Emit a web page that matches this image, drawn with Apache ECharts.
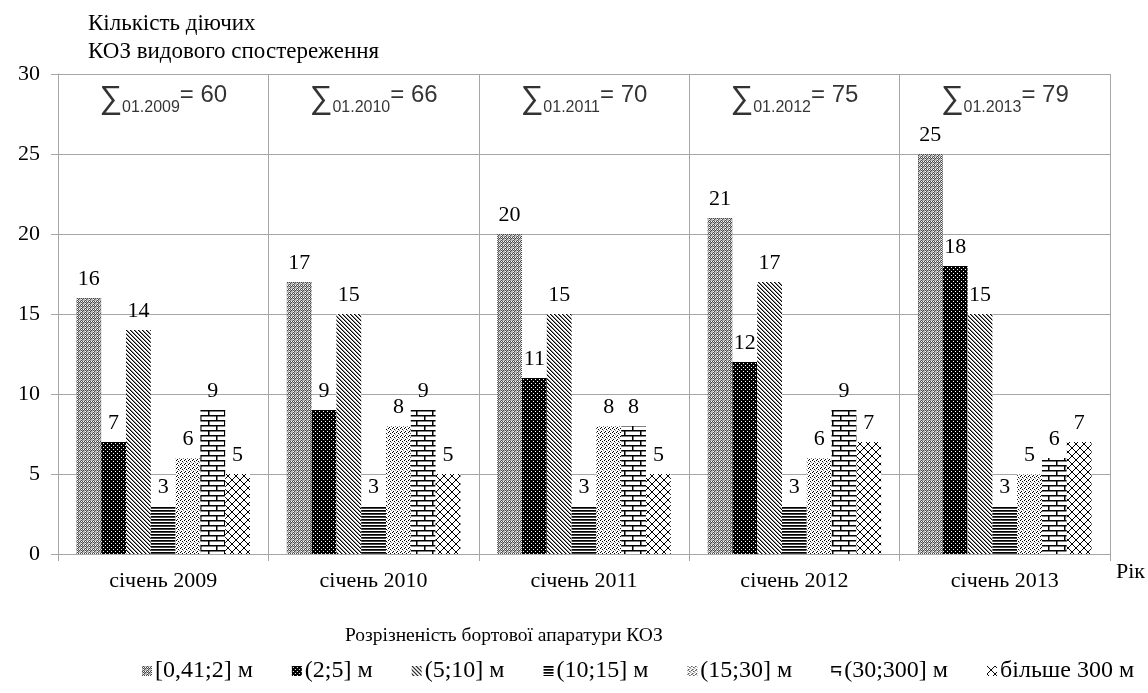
<!DOCTYPE html>
<html>
<head>
<meta charset="utf-8">
<script src="https://cdn.jsdelivr.net/npm/echarts@6/dist/echarts.min.js"></script>
<style>
  html, body { margin: 0; padding: 0; background: #fff; }
  #chart { width: 1148px; height: 693px; }
</style>
</head>
<body>
<div id="chart"></div>
<script>
const categories = ['січень 2009', 'січень 2010', 'січень 2011', 'січень 2012', 'січень 2013']
const sumKeys = ['01.2009', '01.2010', '01.2011', '01.2012', '01.2013']
const seriesNames = ['[0,41;2] м', '(2;5] м', '(5;10] м', '(10;15] м', '(15;30] м', '(30;300] м', 'більше 300 м']
const res0 = [16, 17, 20, 21, 25]
const res1 = [7, 9, 11, 12, 18]
const res2 = [14, 15, 15, 17, 15]
const res3 = [3, 3, 3, 3, 3]
const res4 = [6, 8, 8, 6, 5]
const res5 = [9, 9, 8, 9, 6]
const res6 = [5, 5, 5, 7, 7]
const seriesValues = [res0, res1, res2, res3, res4, res5, res6]
const yMin = 0, yMax = 30, yStep = 5

const serif = '"Liberation Serif", "Times New Roman", serif'
const sans = '"Liberation Sans", Arial, sans-serif'
const gridColor = '#a6a6a6'

// small tiles used as bar fills
function tile(w, h, draw) {
  const c = document.createElement('canvas')
  c.width = w
  c.height = h
  const ctx = c.getContext('2d')
  ctx.fillStyle = '#fff'
  ctx.fillRect(0, 0, w, h)
  draw(ctx)
  return { image: c, repeat: 'repeat' }
}
function px(ctx, pts, col) {
  ctx.fillStyle = col
  pts.forEach(p => ctx.fillRect(p[0], p[1], 1, 1))
}
const fills = [
  // grey "spheres"
  tile(4, 4, ctx => {
    px(ctx, [[1, 0], [0, 1], [2, 1], [1, 2], [3, 2], [2, 3]], '#4a4a4a')
    px(ctx, [[0, 0], [2, 0], [0, 2], [3, 0], [0, 3], [3, 3], [2, 2]], '#b4b4b4')
  }),
  // black with white dots
  tile(4, 4, ctx => {
    ctx.fillStyle = '#000'
    ctx.fillRect(0, 0, 4, 4)
    px(ctx, [[1, 1], [3, 3]], '#fff')
  }),
  // "\" diagonals
  tile(4, 4, ctx => {
    px(ctx, [[0, 0], [1, 1], [2, 2], [3, 3]], '#000')
    px(ctx, [[1, 0], [2, 1], [3, 2], [0, 3]], '#8a8a8a')
  }),
  // horizontal stripes
  tile(1, 3, ctx => {
    px(ctx, [[0, 0]], '#000')
    px(ctx, [[0, 1]], '#444')
  }),
  // sparse dots
  tile(4, 4, ctx => {
    px(ctx, [[0, 0], [2, 1], [1, 3]], '#000')
    px(ctx, [[3, 2]], '#888')
  }),
  // bricks
  tile(16, 10, ctx => {
    ctx.fillStyle = '#000'
    ctx.fillRect(0, 0, 16, 1.5)
    ctx.fillRect(0, 5, 16, 1.5)
    ctx.fillRect(0, 0, 1.5, 5)
    ctx.fillRect(8, 5, 1.5, 5)
  }),
  // crosshatch
  tile(8, 8, ctx => {
    ctx.strokeStyle = '#000'
    ctx.lineWidth = 1
    ctx.beginPath()
    ctx.moveTo(0, 0); ctx.lineTo(8, 8)
    ctx.moveTo(8, 0); ctx.lineTo(0, 8)
    ctx.stroke()
  })
]

const sums = categories.map((c, i) => seriesValues.reduce((a, s) => a + s[i], 0))

const barSeries = seriesNames.map((name, k) => ({
  name: name,
  type: 'bar',
  barWidth: 24.8,
  barGap: '0%',
  itemStyle: { color: fills[k] },
  label: {
    show: true,
    position: 'top',
    distance: 8,
    fontFamily: serif,
    fontSize: 22,
    color: '#000'
  },
  data: seriesValues[k]
}))

const sumSeries = {
  name: 'sum',
  type: 'scatter',
  symbolSize: 0,
  silent: true,
  label: {
    show: true,
    position: 'inside',
    formatter: p => '{s|∑}{sub|' + sumKeys[p.dataIndex] + '}{eq|= ' + sums[p.dataIndex] + '}',
    rich: {
      s: { fontFamily: sans, fontSize: 32, color: '#000', verticalAlign: 'bottom' },
      sub: { fontFamily: sans, fontSize: 16, color: '#000', verticalAlign: 'bottom' },
      eq: { fontFamily: sans, fontSize: 24, color: '#000', verticalAlign: 'bottom', padding: [0, 0, 8, 0] }
    }
  },
  data: categories.map(() => 28.4)
}

const chart = echarts.init(document.getElementById('chart'))
chart.setOption({
  animation: false,
  backgroundColor: '#fff',
  title: [
    {
      text: 'Кількість діючих\nКОЗ видового спостереження',
      left: 83,
      top: 5,
      textStyle: { fontFamily: serif, fontSize: 23, fontWeight: 'normal', color: '#000', lineHeight: 28 }
    },
    {
      text: 'Розрізненість бортової апаратури КОЗ',
      left: 340,
      top: 621,
      textStyle: { fontFamily: serif, fontSize: 19.5, fontWeight: 'normal', color: '#000' }
    }
  ],
  legend: {
    data: seriesNames,
    left: 142,
    right: 0,
    top: 659,
    padding: 0,
    icon: 'rect',
    itemWidth: 10,
    itemHeight: 10,
    itemGap: 39,
    textStyle: { fontFamily: serif, fontSize: 24, color: '#000', padding: [0, 0, 0, -2] }
  },
  grid: { left: 58, right: 36, top: 74, bottom: 139 },
  xAxis: {
    type: 'category',
    data: categories,
    name: 'Рік',
    nameLocation: 'end',
    nameGap: 6,
    nameTextStyle: { fontFamily: serif, fontSize: 22, color: '#000', verticalAlign: 'top', padding: [7, 0, 0, 0] },
    axisLine: { lineStyle: { color: gridColor } },
    axisTick: { show: true, length: 7, lineStyle: { color: gridColor } },
    axisLabel: { fontFamily: serif, fontSize: 22, color: '#000', margin: 16 },
    splitLine: { show: true, lineStyle: { color: gridColor } }
  },
  yAxis: {
    type: 'value',
    min: yMin,
    max: yMax,
    interval: yStep,
    axisLine: { show: true, lineStyle: { color: gridColor } },
    axisTick: { show: true, length: 7, lineStyle: { color: gridColor } },
    axisLabel: { fontFamily: serif, fontSize: 22, color: '#000', margin: 18 },
    splitLine: { show: true, lineStyle: { color: gridColor } }
  },
  series: barSeries.concat([sumSeries])
})
</script>
</body>
</html>
